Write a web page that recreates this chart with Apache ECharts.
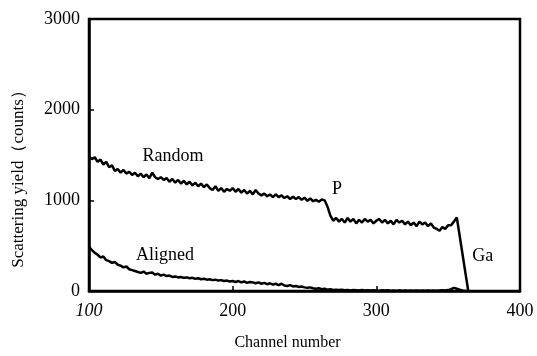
<!DOCTYPE html>
<html>
<head>
<meta charset="utf-8">
<script src="https://cdn.jsdelivr.net/npm/echarts@6/dist/echarts.min.js"></script>
<style>
  html, body { margin: 0; padding: 0; background: #fff; }
  #chart { width: 537px; height: 356px; }
</style>
</head>
<body>
<div id="chart"></div>
<script>
// channel grid shared by both spectra
const channels = [
  100, 102, 104, 106, 108, 110, 112, 114, 116, 118, 120, 122, 124, 126, 128, 130, 132, 134, 136, 138,
  140, 142, 144, 146, 148, 150, 152, 154, 156, 158, 160, 162, 164, 166, 168, 170, 172, 174, 176, 178,
  180, 182, 184, 186, 188, 190, 192, 194, 196, 198, 200, 202, 204, 206, 208, 210, 212, 214, 216, 218,
  220, 222, 224, 226, 228, 230, 232, 234, 236, 238, 240, 242, 244, 246, 248, 250, 252, 254, 256, 258,
  260, 262, 264, 266, 268, 270, 272, 274, 276, 278, 280, 282, 284, 286, 288, 290, 292, 294, 296, 298,
  300, 302, 304, 306, 308, 310, 312, 314, 316, 318, 320, 322, 324, 326, 328, 330, 332, 334, 336, 338,
  340, 342, 344, 346, 348, 350, 352, 354, 356, 358, 360, 362, 364
];

const randomCounts = [
  1480, 1455, 1475, 1425, 1450, 1395, 1425, 1365, 1385, 1325, 1345, 1305, 1335, 1295, 1315, 1280, 1305, 1265, 1295, 1255,
  1285, 1245, 1305, 1255, 1235, 1255, 1225, 1245, 1205, 1235, 1195, 1225, 1185, 1215, 1175, 1205, 1165, 1195, 1155, 1185,
  1145, 1175, 1135, 1115, 1155, 1105, 1135, 1095, 1125, 1105, 1135, 1095, 1125, 1085, 1115, 1075, 1105, 1065, 1115, 1075,
  1055, 1075, 1045, 1065, 1035, 1065, 1035, 1055, 1025, 1045, 1015, 1040, 1015, 1035, 1005, 1030, 995, 1020, 990, 1005,
  985, 1010, 1000, 930, 830, 775, 805, 765, 795, 755, 805, 765, 795, 745, 785, 755, 795, 765, 785, 745,
  775, 795, 755, 785, 745, 775, 735, 785, 755, 775, 735, 765, 725, 755, 715, 765, 735, 755, 715, 745,
  700, 685, 665, 705, 685, 725, 725, 765, 810, 610, 405, 200, 0
];

const alignedCounts = [
  490, 450, 420, 400, 370, 380, 340, 330, 310, 320, 290, 280, 260, 270, 240, 230, 220, 210, 200, 215,
  190, 200, 205, 180, 190, 170, 180, 165, 170, 155, 160, 150, 155, 145, 150, 140, 145, 135, 140, 130,
  135, 125, 130, 120, 125, 115, 120, 110, 115, 105, 110, 100, 110, 95, 105, 90, 100, 95, 85, 95,
  80, 90, 75, 85, 70, 80, 65, 80, 60, 55, 65, 50, 55, 45, 50, 40, 35, 40, 30, 25,
  30, 20, 25, 15, 20, 12, 15, 10, 14, 8, 12, 6, 10, 8, 5, 10, 6, 8, 5, 9,
  6, 4, 8, 5, 7, 4, 6, 3, 7, 4, 6, 3, 5, 4, 6, 3, 5, 4, 6, 3,
  5, 4, 6, 8, 5, 10, 20, 35, 25, 15, 5, 0, 0
];

// in-plot annotations (data coordinates)
const noteTexts = ['Random', 'P', 'Ga', 'Aligned'];
const noteX = [158.5, 272.6, 374, 152.9];
const noteY = [1490, 1117, 383, 394];

const xTicks = [100, 200, 300, 400];
const yTicks = [0, 1000, 2000, 3000];

const font = '"Liberation Serif", "Times New Roman", serif';

const chart = echarts.init(document.getElementById('chart'), null, { renderer: 'canvas' });

const lineStyle = { color: '#000', width: 2.5 };

chart.setOption({
  animation: false,
  backgroundColor: '#fff',
  grid: {
    left: 89, right: 17, top: 19, bottom: 63,
    show: true, borderColor: '#000', borderWidth: 2.5, backgroundColor: 'transparent'
  },
  xAxis: {
    type: 'value',
    min: xTicks[0],
    max: xTicks[xTicks.length - 1],
    interval: 100,
    name: 'Channel number',
    nameLocation: 'middle',
    nameGap: 44,
    nameTextStyle: { fontFamily: font, fontSize: 16, color: '#000', padding: [0, 34, 0, 0] },
    axisLine: { lineStyle: { color: '#000', width: 2.5 } },
    axisTick: { inside: true, length: 5, lineStyle: { color: '#000', width: 1.5 } },
    splitLine: { show: false },
    axisLabel: {
      margin: 11,
      color: '#000',
      fontFamily: font,
      fontSize: 18,
      formatter: (v) => (v === xTicks[0] ? '{i|' + v + '}' : String(v)),
      rich: { i: { fontFamily: font, fontSize: 18, fontStyle: 'italic', color: '#000' } }
    }
  },
  yAxis: {
    type: 'value',
    min: yTicks[0],
    max: yTicks[yTicks.length - 1],
    interval: 1000,
    name: 'Scattering yield（counts）',
    nameLocation: 'middle',
    nameGap: 62,
    nameTextStyle: { fontFamily: font, fontSize: 17, color: '#000', padding: [0, 40, 0, 0] },
    axisLine: { show: true, lineStyle: { color: '#000', width: 2.5 } },
    axisTick: { show: true, inside: true, length: 5, lineStyle: { color: '#000', width: 1.5 } },
    splitLine: { show: false },
    axisLabel: { margin: 9, color: '#000', fontFamily: font, fontSize: 18, formatter: (v) => String(v) }
  },
  series: [
    {
      name: 'Random',
      type: 'line',
      showSymbol: false,
      symbol: 'none',
      lineStyle: lineStyle,
      data: channels.map((c, i) => [c, randomCounts[i]])
    },
    {
      name: 'Aligned',
      type: 'line',
      showSymbol: false,
      symbol: 'none',
      lineStyle: lineStyle,
      data: channels.map((c, i) => [c, alignedCounts[i]])
    },
    {
      name: 'notes',
      type: 'scatter',
      symbolSize: 0,
      silent: true,
      itemStyle: { opacity: 1 },
      label: {
        show: true,
        position: 'inside',
        formatter: (p) => noteTexts[p.dataIndex],
        fontFamily: font,
        fontSize: 18,
        color: '#000'
      },
      data: noteX.map((x, i) => [x, noteY[i]])
    }
  ]
});
</script>
</body>
</html>
